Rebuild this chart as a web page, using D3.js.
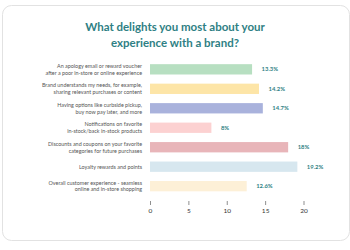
<!DOCTYPE html>
<html>
<head>
<meta charset="utf-8">
<script src="https://cdn.jsdelivr.net/npm/d3@7"></script>
<style>
  body { margin: 0; background: #ffffff; }
</style>
</head>
<body>
<script>
// chart data
const categories = [
  ["An apology email or reward voucher", "after a poor in-store or online experience"],
  ["Brand understands my needs, for example,", "sharing relevant purchases or content"],
  ["Having options like curbside pickup,", "buy now pay later, and more"],
  ["Notifications on favorite", "in-stock/back in-stock products"],
  ["Discounts and coupons on your favorite", "categories for future purchases"],
  ["Loyalty rewards and points"],
  ["Overall customer experience - seamless", "online and in-store shopping"]
];
const values = [13.3, 14.2, 14.7, 8, 18, 19.2, 12.6];
const valueLabels = ["13.3%", "14.2%", "14.7%", "8%", "18%", "19.2%", "12.6%"];
const barColors = ["#b7dfc1", "#fde5a7", "#a9b2dc", "#fcd1d1", "#e8b5b9", "#d7e7ef", "#fdf0d7"];
const tickValues = [0, 5, 10, 15, 20];

const canvasW = 350;
const canvasH = 250;
const teal = "#2f7f84";

let svg = d3.select("body").append("svg")
  .attr("width", canvasW)
  .attr("height", canvasH)
  .style("display", "block");

// card
svg.append("rect")
  .attr("x", 2.5)
  .attr("y", 5.5)
  .attr("width", 347)
  .attr("height", 235)
  .attr("rx", 9)
  .attr("fill", "#ffffff")
  .attr("stroke", "#e2e2e2")
  .attr("stroke-width", 1);

// title
const title = svg.append("text")
  .attr("x", 175)
  .attr("text-anchor", "middle")
  .attr("font-family", "Lato, sans-serif")
  .attr("font-weight", "bold")
  .attr("font-size", "11.5px")
  .attr("fill", teal);
title.append("tspan").attr("x", 175).attr("y", 31).text("What delights you most about your");
title.append("tspan").attr("x", 175).attr("y", 47).text("experience with a brand?");

let x = d3.scaleLinear()
  .domain([0, 20])
  .range([150, 303.5]);

let y = d3.scaleBand()
  .domain(d3.range(categories.length))
  .range([59.5, 196])
  .paddingInner(0.47)
  .paddingOuter(0.24);

// bars
svg.selectAll(".bar")
  .data(values)
  .enter()
  .append("rect")
    .attr("class", "bar")
    .attr("x", x(0))
    .attr("y", (d, i) => y(i))
    .attr("width", d => x(d) - x(0))
    .attr("height", y.bandwidth())
    .attr("fill", (d, i) => barColors[i]);

// value labels
svg.selectAll(".val")
  .data(values)
  .enter()
  .append("text")
    .attr("class", "val")
    .attr("x", d => x(d) + 9.5)
    .attr("y", (d, i) => y(i) + y.bandwidth() / 2 + 2.1)
    .attr("font-family", "Lato, sans-serif")
    .attr("font-weight", "bold")
    .attr("font-size", "5.9px")
    .attr("fill", teal)
    .text((d, i) => valueLabels[i]);

// category labels
let labels = svg.selectAll(".cat")
  .data(categories)
  .enter()
  .append("text")
    .attr("class", "cat")
    .attr("text-anchor", "end")
    .attr("font-family", "Lato, sans-serif")
    .attr("font-size", "5.4px")
    .attr("fill", "#555555");

labels.each(function(lines, i) {
  let cy = y(i) + y.bandwidth() / 2;
  let start = cy - (lines.length - 1) * 3.4 + 1.9;
  d3.select(this).selectAll("tspan")
    .data(lines)
    .enter()
    .append("tspan")
      .attr("x", 142)
      .attr("y", (l, j) => start + j * 6.8)
      .text(l => l);
});

// x axis
let axis = svg.append("g")
  .attr("transform", "translate(0,201)")
  .call(d3.axisBottom(x).tickValues(tickValues).tickSize(4).tickPadding(3));
axis.select(".domain").remove();
axis.selectAll(".tick line").attr("stroke", "#444444").attr("stroke-width", 0.6);
axis.selectAll(".tick text")
  .attr("font-family", "Lato, sans-serif")
  .attr("font-size", "6.5px")
  .attr("fill", "#333333");
</script>
</body>
</html>
